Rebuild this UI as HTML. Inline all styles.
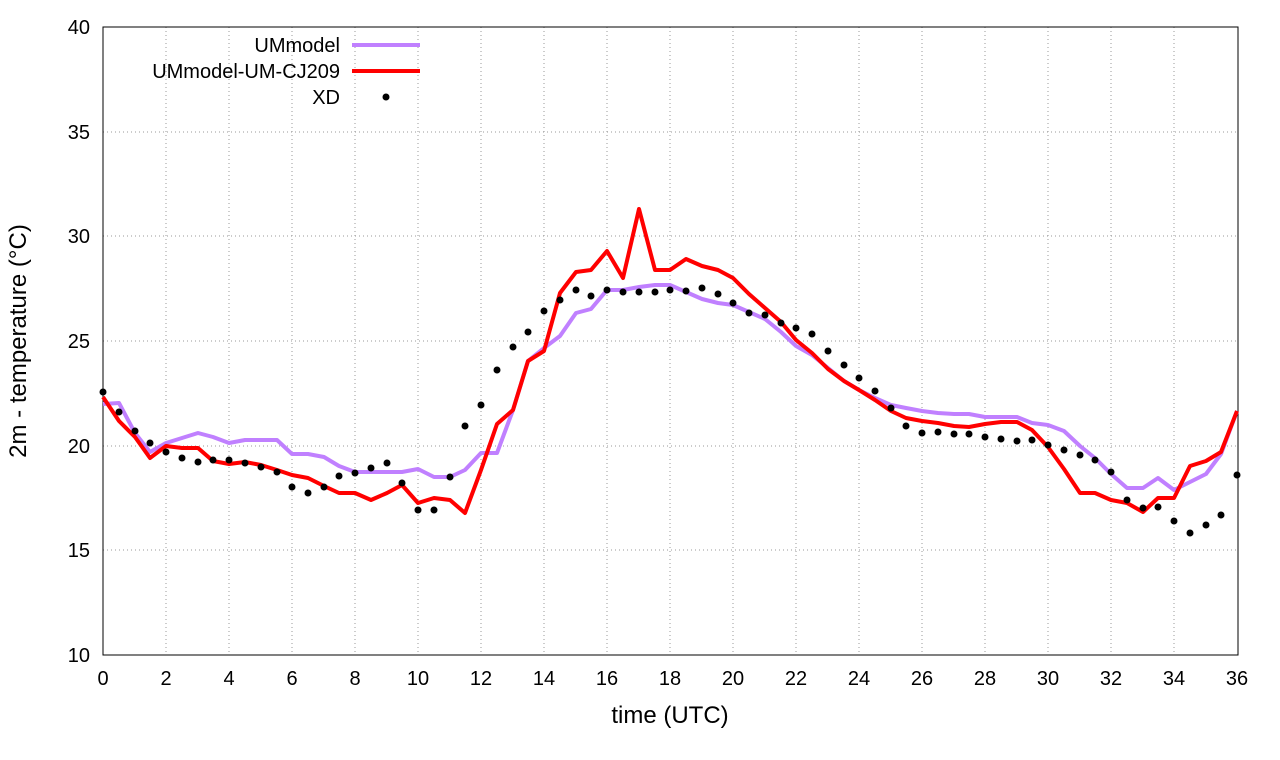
<!DOCTYPE html>
<html><head><meta charset="utf-8"><style>
html,body{margin:0;padding:0;background:#fff;}
svg{display:block;font-family:"Liberation Sans",sans-serif;}
</style></head><body>
<svg width="1280" height="760" viewBox="0 0 1280 760" xmlns="http://www.w3.org/2000/svg">
<g stroke="#999" stroke-width="1" stroke-dasharray="1,3">
<line x1="103" y1="550" x2="1238" y2="550"/><line x1="103" y1="446" x2="1238" y2="446"/>
<line x1="103" y1="341" x2="1238" y2="341"/><line x1="103" y1="236" x2="1238" y2="236"/>
<line x1="103" y1="132" x2="1238" y2="132"/>
<line x1="166" y1="27" x2="166" y2="655"/><line x1="229" y1="27" x2="229" y2="655"/>
<line x1="292" y1="27" x2="292" y2="655"/><line x1="355" y1="27" x2="355" y2="655"/>
<line x1="418" y1="27" x2="418" y2="655"/><line x1="481" y1="27" x2="481" y2="655"/>
<line x1="544" y1="27" x2="544" y2="655"/><line x1="607" y1="27" x2="607" y2="655"/>
<line x1="670" y1="27" x2="670" y2="655"/><line x1="733" y1="27" x2="733" y2="655"/>
<line x1="796" y1="27" x2="796" y2="655"/><line x1="859" y1="27" x2="859" y2="655"/>
<line x1="922" y1="27" x2="922" y2="655"/><line x1="985" y1="27" x2="985" y2="655"/>
<line x1="1048" y1="27" x2="1048" y2="655"/><line x1="1111" y1="27" x2="1111" y2="655"/>
<line x1="1174" y1="27" x2="1174" y2="655"/>
</g>
<rect x="103" y="27" width="1135" height="628" fill="none" stroke="#000" stroke-width="1"/>
<g font-size="20" fill="#000" text-anchor="end">
<text x="90" y="662">10</text><text x="90" y="557">15</text><text x="90" y="453">20</text>
<text x="90" y="348">25</text><text x="90" y="243">30</text><text x="90" y="139">35</text><text x="90" y="34">40</text>
</g>
<g font-size="20" fill="#000" text-anchor="middle">
<text x="103" y="685">0</text><text x="166" y="685">2</text><text x="229" y="685">4</text><text x="292" y="685">6</text>
<text x="355" y="685">8</text><text x="418" y="685">10</text><text x="481" y="685">12</text><text x="544" y="685">14</text>
<text x="607" y="685">16</text><text x="670" y="685">18</text><text x="733" y="685">20</text><text x="796" y="685">22</text>
<text x="859" y="685">24</text><text x="922" y="685">26</text><text x="985" y="685">28</text><text x="1048" y="685">30</text>
<text x="1111" y="685">32</text><text x="1174" y="685">34</text><text x="1237" y="685">36</text>
</g>
<text x="670" y="723" font-size="24" text-anchor="middle">time (UTC)</text>
<text transform="translate(26,341) rotate(-90)" font-size="24" text-anchor="middle">2m - temperature (°C)</text>
<g font-size="20" text-anchor="end">
<text x="340" y="52">UMmodel</text><text x="340" y="78">UMmodel-UM-CJ209</text><text x="340" y="104">XD</text>
</g>
<line x1="352" y1="45" x2="420" y2="45" stroke="#c080ff" stroke-width="4"/>
<line x1="352" y1="71" x2="420" y2="71" stroke="#ff0000" stroke-width="4"/>
<circle cx="386" cy="97" r="3.5" fill="#000"/>
<polyline fill="none" stroke="#c080ff" stroke-width="4" stroke-linejoin="round" points="103,404 119,403 135,433 150,452 166,443 182,438 198,433 213,437 229,443 245,440 261,440 277,440 292,454 308,454 324,457 339,466 355,472 371,472 387,472 402,472 418,469 434,477 450,477 465,470 481,453 497,453 513,410 528,361 544,348 560,336 576,313 591,309 607,290 623,290 639,287 655,285 670,285 686,292 702,299 718,303 733,305 749,312 765,319 781,332 796,346 812,355 828,368 844,381 859,390 875,398 891,405 906,408 922,411 938,413 954,414 969,414 985,417 1001,417 1017,417 1032,423 1048,425 1064,431 1080,446 1095,458 1111,474 1127,488 1143,488 1158,478 1174,490 1190,482 1206,474 1221,454 1237,411"/>
<polyline fill="none" stroke="#ff0000" stroke-width="4" stroke-linejoin="round" points="103,397 119,421 135,437 150,458 166,446 182,448 198,448 213,461 229,464 245,462 261,465 277,470 292,475 308,478 324,486 339,493 355,493 371,500 387,493 402,485 418,503 434,498 450,500 465,513 481,470 497,424 513,410 528,361 544,351 560,293 576,272 591,270 607,251 623,278 639,209 655,270 670,270 686,259 702,266 718,270 733,278 749,294 765,308 781,322 796,340 812,353 828,369 844,381 859,390 875,400 891,411 906,418 922,421 938,423 954,426 969,427 985,424 1001,422 1017,422 1032,430 1048,447 1064,469 1080,493 1095,493 1111,500 1127,503 1143,512 1158,498 1174,498 1190,466 1206,461 1221,452 1237,411"/>
<g fill="#000">
<circle cx="103" cy="392" r="3.5"/><circle cx="119" cy="412" r="3.5"/><circle cx="135" cy="431" r="3.5"/><circle cx="150" cy="443" r="3.5"/>
<circle cx="166" cy="452" r="3.5"/><circle cx="182" cy="458" r="3.5"/><circle cx="198" cy="462" r="3.5"/><circle cx="213" cy="460" r="3.5"/>
<circle cx="229" cy="460" r="3.5"/><circle cx="245" cy="463" r="3.5"/><circle cx="261" cy="467" r="3.5"/><circle cx="277" cy="472" r="3.5"/>
<circle cx="292" cy="487" r="3.5"/><circle cx="308" cy="493" r="3.5"/><circle cx="324" cy="487" r="3.5"/><circle cx="339" cy="476" r="3.5"/>
<circle cx="355" cy="473" r="3.5"/><circle cx="371" cy="468" r="3.5"/><circle cx="387" cy="463" r="3.5"/><circle cx="402" cy="483" r="3.5"/>
<circle cx="418" cy="510" r="3.5"/><circle cx="434" cy="510" r="3.5"/><circle cx="450" cy="477" r="3.5"/><circle cx="465" cy="426" r="3.5"/>
<circle cx="481" cy="405" r="3.5"/><circle cx="497" cy="370" r="3.5"/><circle cx="513" cy="347" r="3.5"/><circle cx="528" cy="332" r="3.5"/>
<circle cx="544" cy="311" r="3.5"/><circle cx="560" cy="300" r="3.5"/><circle cx="576" cy="290" r="3.5"/><circle cx="591" cy="296" r="3.5"/>
<circle cx="607" cy="290" r="3.5"/><circle cx="623" cy="292" r="3.5"/><circle cx="639" cy="292" r="3.5"/><circle cx="655" cy="292" r="3.5"/>
<circle cx="670" cy="290" r="3.5"/><circle cx="686" cy="291" r="3.5"/><circle cx="702" cy="288" r="3.5"/><circle cx="718" cy="294" r="3.5"/>
<circle cx="733" cy="303" r="3.5"/><circle cx="749" cy="313" r="3.5"/><circle cx="765" cy="315" r="3.5"/><circle cx="781" cy="323" r="3.5"/>
<circle cx="796" cy="328" r="3.5"/><circle cx="812" cy="334" r="3.5"/><circle cx="828" cy="351" r="3.5"/><circle cx="844" cy="365" r="3.5"/>
<circle cx="859" cy="378" r="3.5"/><circle cx="875" cy="391" r="3.5"/><circle cx="891" cy="408" r="3.5"/><circle cx="906" cy="426" r="3.5"/>
<circle cx="922" cy="433" r="3.5"/><circle cx="938" cy="432" r="3.5"/><circle cx="954" cy="434" r="3.5"/><circle cx="969" cy="434" r="3.5"/>
<circle cx="985" cy="437" r="3.5"/><circle cx="1001" cy="439" r="3.5"/><circle cx="1017" cy="441" r="3.5"/><circle cx="1032" cy="440" r="3.5"/>
<circle cx="1048" cy="445" r="3.5"/><circle cx="1064" cy="450" r="3.5"/><circle cx="1080" cy="455" r="3.5"/><circle cx="1095" cy="460" r="3.5"/>
<circle cx="1111" cy="472" r="3.5"/><circle cx="1127" cy="500" r="3.5"/><circle cx="1143" cy="508" r="3.5"/><circle cx="1158" cy="507" r="3.5"/>
<circle cx="1174" cy="521" r="3.5"/><circle cx="1190" cy="533" r="3.5"/><circle cx="1206" cy="525" r="3.5"/><circle cx="1221" cy="515" r="3.5"/>
<circle cx="1237" cy="475" r="3.5"/>
</g>
</svg>
</body></html>
